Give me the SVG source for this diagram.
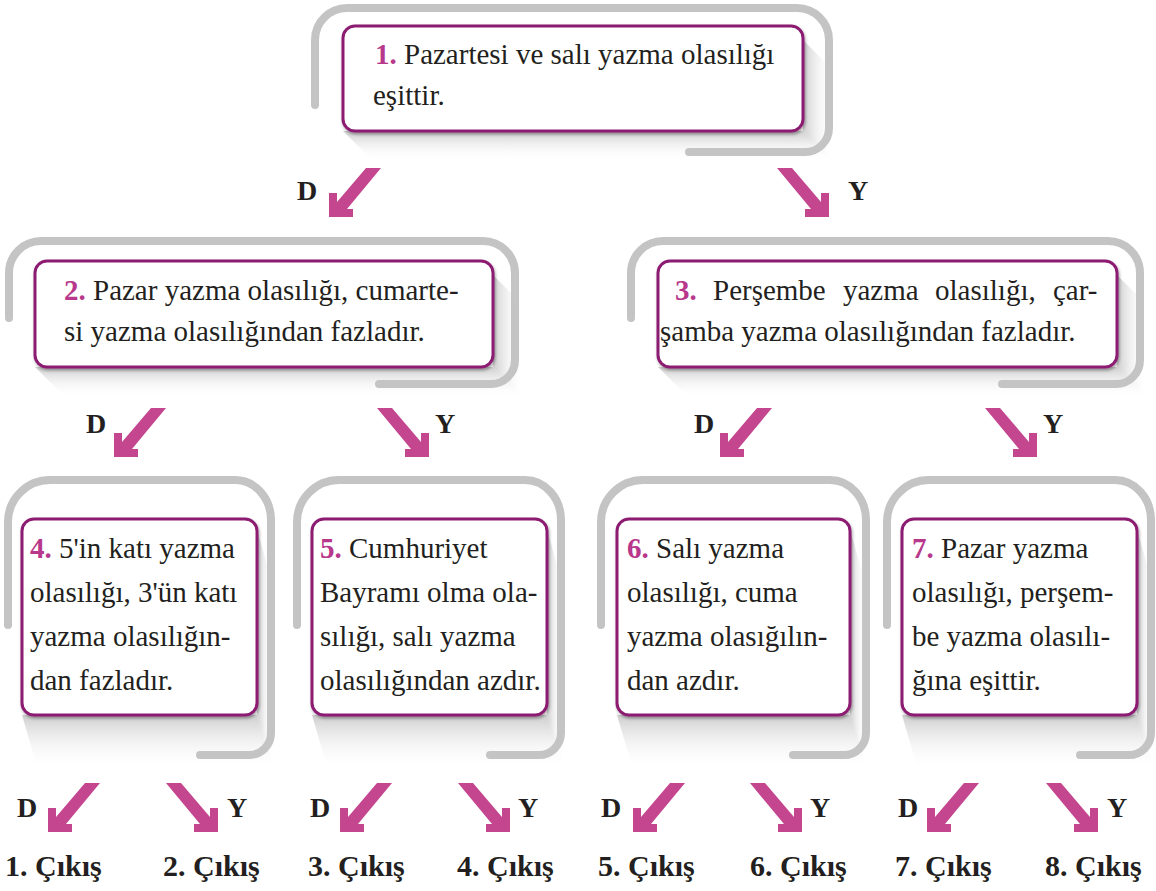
<svg xmlns="http://www.w3.org/2000/svg" xmlns:xlink="http://www.w3.org/1999/xlink" width="1156" height="891" viewBox="0 0 1156 891">
<style>
.brk{fill:none;stroke:#c4c4c4;stroke-width:8;stroke-linecap:round;stroke-linejoin:round}
.box{fill:#fff;stroke:#8c1c72;stroke-width:3;filter:url(#ds)}
.t{font-family:'Liberation Serif','Times New Roman',serif;font-size:29px;font-weight:400;font-style:normal;fill:#231f20}
.n{font-weight:700;fill:#b8388b}
.lab{font-family:'Liberation Serif','Times New Roman',serif;font-weight:700;font-size:28px;fill:#231f20}
.out{font-size:30px}
.arr{fill:#c4468f}
.sb{fill:url(#gV)}
.sr{fill:url(#gH)}
</style>
<defs>
<filter id="ds" x="-5%" y="-5%" width="110%" height="115%">
<feDropShadow dx="1" dy="2" stdDeviation="1.5" flood-color="#000" flood-opacity="0.35"/>
</filter>
<linearGradient id="gV" x1="0" y1="0" x2="0" y2="1">
<stop offset="0" stop-color="#c8c8c8" stop-opacity="0.9"/>
<stop offset="1" stop-color="#ffffff" stop-opacity="0"/>
</linearGradient>
<linearGradient id="gH" x1="0" y1="0" x2="1" y2="0">
<stop offset="0" stop-color="#c8c8c8" stop-opacity="0.9"/>
<stop offset="1" stop-color="#ffffff" stop-opacity="0"/>
</linearGradient>
<path id="aDL" class="arr" d="M0,0 V-24 H8 V-15 L37,-49 H52 L18,-8 H24 V0 Z"/>
</defs>
<rect width="1156" height="891" fill="#fff"/>

<g id="n1">
<polygon class="sb" points="343,131 373,161 833,161 803,131"/>
<polygon class="sr" points="803,40 833,70 833,161 803,131"/>
<path class="brk" d="M315,105 V40 A32,32 0 0 1 347,8 H797 A32,32 0 0 1 829,40 V128 A24,24 0 0 1 805,152 H689"/>
<rect class="box" x="343" y="26" width="460" height="105" rx="12"/>
<text class="t" font-family="Liberation Serif, serif" x="375" y="64"><tspan class="n">1.</tspan> Pazartesi ve salı yazma olasılığı</text>
<text class="t" font-family="Liberation Serif, serif" x="373" y="105">eşittir.</text>
</g>

<g id="n2">
<polygon class="sb" points="35,367 65,397 523,397 493,367"/>
<polygon class="sr" points="493,275 523,305 523,397 493,367"/>
<path class="brk" d="M9,318 V273 A32,32 0 0 1 41,241 H483 A32,32 0 0 1 515,273 V360 A24,24 0 0 1 491,384 H379"/>
<rect class="box" x="35" y="261" width="458" height="106" rx="12"/>
<text class="t" font-family="Liberation Serif, serif" x="64" y="300"><tspan class="n">2.</tspan> Pazar yazma olasılığı, cumarte-</text>
<text class="t" font-family="Liberation Serif, serif" x="64" y="341">si yazma olasılığından fazladır.</text>
</g>

<g id="n3">
<polygon class="sb" points="658,367 688,397 1147,397 1117,367"/>
<polygon class="sr" points="1117,275 1147,305 1147,397 1117,367"/>
<path class="brk" d="M631,318 V273 A32,32 0 0 1 663,241 H1108 A32,32 0 0 1 1140,273 V360 A24,24 0 0 1 1116,384 H1002"/>
<rect class="box" x="658" y="261" width="459" height="106" rx="12"/>
<text class="t" font-family="Liberation Serif, serif" y="300"><tspan class="n" x="675">3.</tspan><tspan x="713">Perşembe</tspan><tspan x="843">yazma</tspan><tspan x="935">olasılığı,</tspan><tspan x="1053">çar-</tspan></text>
<text class="t" font-family="Liberation Serif, serif" x="660" y="341">şamba yazma olasılığından fazladır.</text>
</g>

<g id="n4">
<polygon class="sb" points="22,715 38,770 273,770 257,715"/>
<polygon class="sr" points="257,530 273,585 273,770 257,715"/>
<path class="brk" d="M8,625 V522 A42,42 0 0 1 50,480 H235 A36,40 0 0 1 271,520 V733 A22,22 0 0 1 249,755 H200"/>
<rect class="box" x="22" y="519" width="235" height="196" rx="12"/>
<text class="t" font-family="Liberation Serif, serif" x="30" y="558"><tspan class="n">4.</tspan> 5'in katı yazma</text>
<text class="t" font-family="Liberation Serif, serif" x="30" y="602">olasılığı, 3'ün katı</text>
<text class="t" font-family="Liberation Serif, serif" x="30" y="646">yazma olasılığın-</text>
<text class="t" font-family="Liberation Serif, serif" x="30" y="690">dan fazladır.</text>
</g>

<g id="n5">
<polygon class="sb" points="312,715 328,770 563,770 547,715"/>
<polygon class="sr" points="547,530 563,585 563,770 547,715"/>
<path class="brk" d="M297,625 V522 A42,42 0 0 1 339,480 H525 A36,40 0 0 1 561,520 V733 A22,22 0 0 1 539,755 H490"/>
<rect class="box" x="312" y="519" width="235" height="196" rx="12"/>
<text class="t" font-family="Liberation Serif, serif" x="320" y="558"><tspan class="n">5.</tspan> Cumhuriyet</text>
<text class="t" font-family="Liberation Serif, serif" x="320" y="602">Bayramı olma ola-</text>
<text class="t" font-family="Liberation Serif, serif" x="320" y="646">sılığı, salı yazma</text>
<text class="t" font-family="Liberation Serif, serif" x="320" y="690">olasılığından azdır.</text>
</g>

<g id="n6">
<polygon class="sb" points="617,715 633,770 866,770 850,715"/>
<polygon class="sr" points="850,530 866,585 866,770 850,715"/>
<path class="brk" d="M601,625 V522 A42,42 0 0 1 643,480 H830 A36,40 0 0 1 866,520 V733 A22,22 0 0 1 844,755 H793"/>
<rect class="box" x="617" y="519" width="233" height="196" rx="12"/>
<text class="t" font-family="Liberation Serif, serif" x="627" y="558"><tspan class="n">6.</tspan> Salı yazma</text>
<text class="t" font-family="Liberation Serif, serif" x="627" y="602">olasılığı, cuma</text>
<text class="t" font-family="Liberation Serif, serif" x="627" y="646">yazma olasığılın-</text>
<text class="t" font-family="Liberation Serif, serif" x="627" y="690">dan azdır.</text>
</g>

<g id="n7">
<polygon class="sb" points="902,715 918,770 1153,770 1137,715"/>
<polygon class="sr" points="1137,530 1153,585 1153,770 1137,715"/>
<path class="brk" d="M887,625 V522 A42,42 0 0 1 929,480 H1115 A36,40 0 0 1 1151,520 V733 A22,22 0 0 1 1129,755 H1080"/>
<rect class="box" x="902" y="519" width="235" height="196" rx="12"/>
<text class="t" font-family="Liberation Serif, serif" x="912" y="558"><tspan class="n">7.</tspan> Pazar yazma</text>
<text class="t" font-family="Liberation Serif, serif" x="912" y="602">olasılığı, perşem-</text>
<text class="t" font-family="Liberation Serif, serif" x="912" y="646">be yazma olasılı-</text>
<text class="t" font-family="Liberation Serif, serif" x="912" y="690">ğına eşittir.</text>
</g>

<g id="connectors">
<use href="#aDL" x="329" y="217"/>
<use href="#aDL" transform="translate(829,217) scale(-1,1)"/>
<use href="#aDL" x="114" y="457"/>
<use href="#aDL" transform="translate(429,457) scale(-1,1)"/>
<use href="#aDL" x="720" y="457"/>
<use href="#aDL" transform="translate(1037,457) scale(-1,1)"/>
<use href="#aDL" x="48" y="832"/>
<use href="#aDL" transform="translate(218,832) scale(-1,1)"/>
<use href="#aDL" x="340" y="832"/>
<use href="#aDL" transform="translate(510,832) scale(-1,1)"/>
<use href="#aDL" x="633" y="832"/>
<use href="#aDL" transform="translate(802,832) scale(-1,1)"/>
<use href="#aDL" x="927" y="832"/>
<use href="#aDL" transform="translate(1098,832) scale(-1,1)"/>
</g>

<g id="labels">
<text class="lab" x="297" y="200">D</text>
<text class="lab" x="848" y="200">Y</text>
<text class="lab" x="86" y="433">D</text>
<text class="lab" x="435" y="433">Y</text>
<text class="lab" x="694" y="433">D</text>
<text class="lab" x="1043" y="433">Y</text>
<text class="lab" x="17" y="817">D</text>
<text class="lab" x="227" y="817">Y</text>
<text class="lab" x="310" y="817">D</text>
<text class="lab" x="518" y="817">Y</text>
<text class="lab" x="601" y="817">D</text>
<text class="lab" x="810" y="817">Y</text>
<text class="lab" x="898" y="817">D</text>
<text class="lab" x="1107" y="817">Y</text>
<text class="lab out" x="5" y="876">1. Çıkış</text>
<text class="lab out" x="163" y="876">2. Çıkış</text>
<text class="lab out" x="308" y="876">3. Çıkış</text>
<text class="lab out" x="457" y="876">4. Çıkış</text>
<text class="lab out" x="598" y="876">5. Çıkış</text>
<text class="lab out" x="750" y="876">6. Çıkış</text>
<text class="lab out" x="895" y="876">7. Çıkış</text>
<text class="lab out" x="1045" y="876">8. Çıkış</text>
</g>
</svg>
